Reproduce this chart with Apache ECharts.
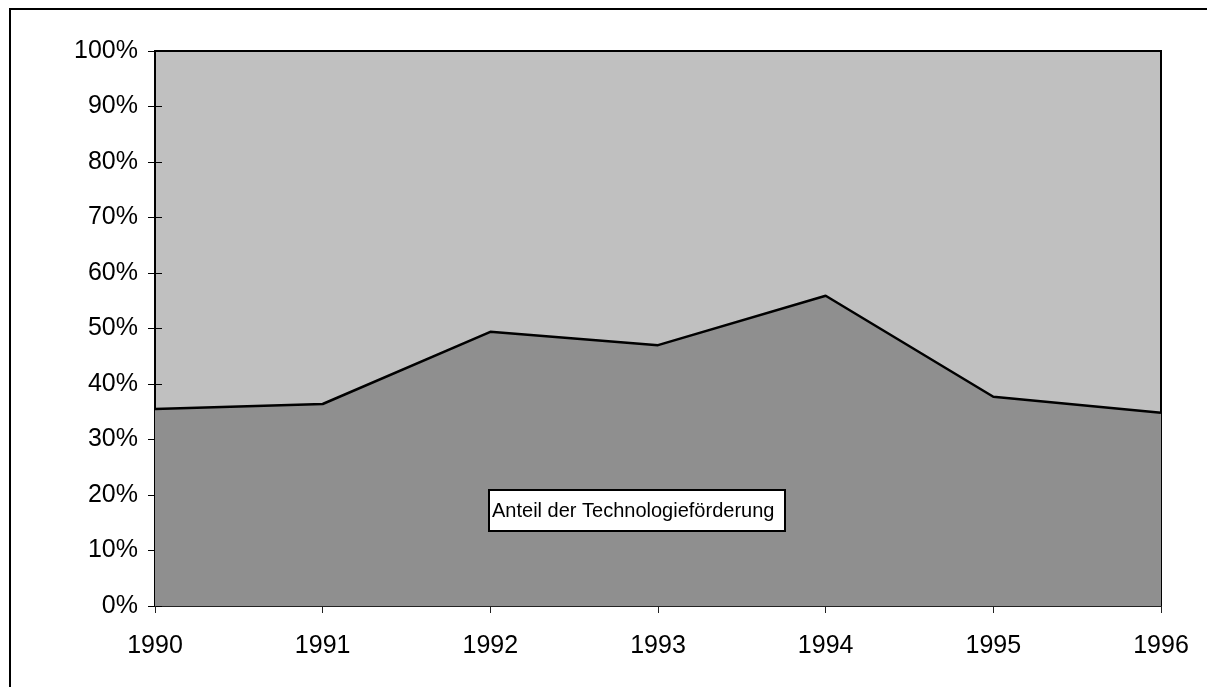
<!DOCTYPE html>
<html>
<head>
<meta charset="utf-8">
<script src="https://cdn.jsdelivr.net/npm/echarts@6/dist/echarts.min.js"></script>
<style>
    html, body { margin: 0; padding: 0; background: #fff; }
    #chart { width: 1207px; height: 687px; }
</style>
</head>
<body>
<div id="chart"></div>
<script>
    // Jahre und Anteil der Technologieförderung (in %)
    var years = ['1990', '1991', '1992', '1993', '1994', '1995', '1996'];
    var techShare = [35.5, 36.4, 49.4, 47.0, 55.9, 37.7, 34.8];
    var yTicks = [0, 10, 20, 30, 40, 50, 60, 70, 80, 90, 100];
    var labelText = 'Anteil der Technologieförderung';

    var chart = echarts.init(document.getElementById('chart'));
    var font = 'Arial, "Liberation Sans", sans-serif';

    var option = {
        animation: false,
        grid: {
            left: 155, right: 46, top: 51, bottom: 81,
            show: true,
            backgroundColor: '#c0c0c0',
            borderColor: '#000',
            borderWidth: 2
        },
        graphic: [
            {
                type: 'rect',
                shape: { x: 10, y: 9, width: 1400, height: 900 },
                style: { fill: 'none', stroke: '#000', lineWidth: 2 },
                silent: true
            },
            {
                type: 'rect',
                z: 100,
                shape: { x: 489, y: 490, width: 296, height: 41 },
                style: { fill: '#fff', stroke: '#000', lineWidth: 2 }
            },
            {
                type: 'text',
                z: 101,
                left: 492,
                top: 501,
                style: { text: labelText, fill: '#000', fontSize: 20, fontFamily: font }
            }
        ],
        xAxis: {
            type: 'category',
            data: years,
            boundaryGap: false,
            axisLine: { lineStyle: { color: '#222', width: 1 } },
            axisTick: { show: true, length: 7, lineStyle: { color: '#222' } },
            axisLabel: { color: '#000', fontSize: 25, fontFamily: font, margin: 28 },
            splitLine: { show: false }
        },
        yAxis: [
            {
                type: 'value',
                min: 0, max: 100, interval: 10,
                axisLine: { show: true, lineStyle: { color: '#000', width: 2 } },
                axisTick: { show: true, length: 7, lineStyle: { color: '#000' } },
                axisLabel: {
                    color: '#000', fontSize: 25, fontFamily: font, margin: 17,
                    formatter: function (v) { return yTicks.indexOf(v) >= 0 ? v + '%' : ''; }
                },
                splitLine: { show: false }
            },
            {
                type: 'value',
                position: 'left',
                min: 0, max: 100, interval: 10,
                axisLine: { show: false },
                axisTick: { show: true, inside: true, length: 7, lineStyle: { color: '#000' } },
                axisLabel: { show: false },
                splitLine: { show: false }
            }
        ],
        series: [
            {
                type: 'line',
                data: techShare,
                symbol: 'none',
                lineStyle: { color: '#000', width: 2.5 },
                areaStyle: { color: '#8f8f8f', opacity: 1 },
                z: 2
            }
        ]
    };
    chart.setOption(option);
</script>
</body>
</html>
